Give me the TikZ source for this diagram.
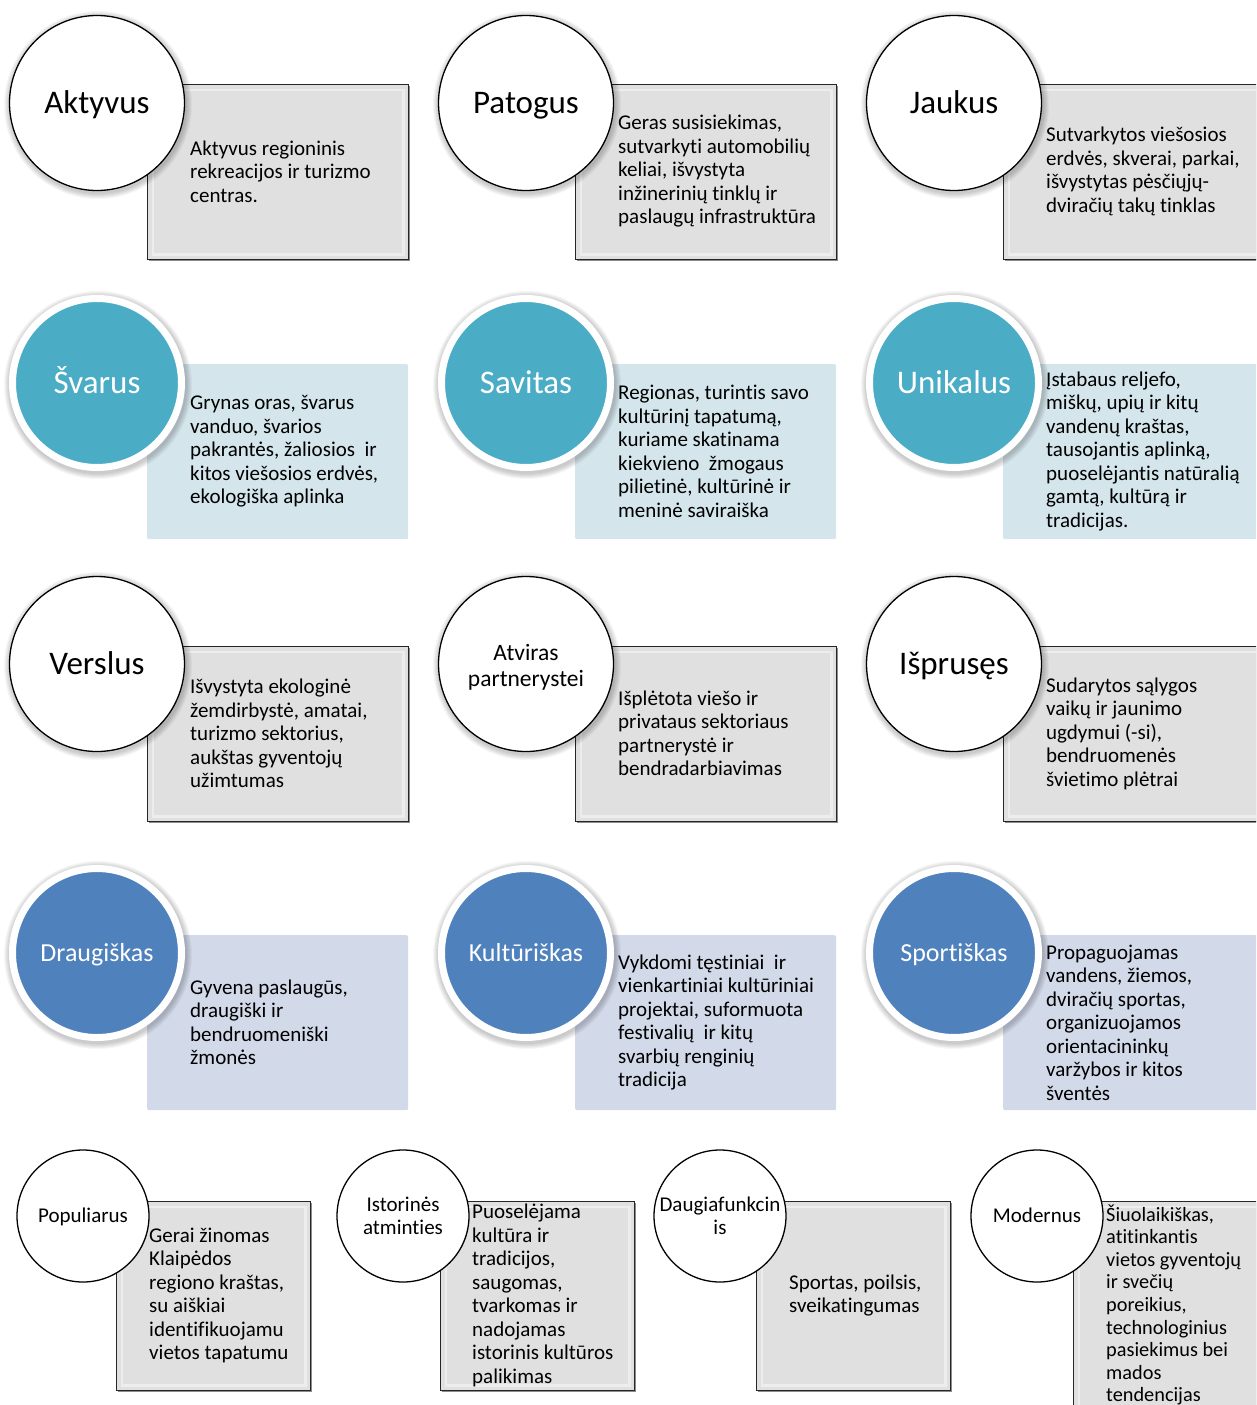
\documentclass[tikz,border=0pt]{standalone}
\usepackage{fontspec}
\setmainfont{Carlito}[Ligatures=NoCommon]
\definecolor{tealc}{HTML}{4BACC6}
\definecolor{bluec}{HTML}{4F81BD}
\definecolor{ltealbox}{HTML}{D4E5EC}
\definecolor{lbluebox}{HTML}{D2D9E9}
\tikzset{
  graybox/.style={draw=black!85, line width=1.4pt, fill=black!12, inner sep=0pt, anchor=north west,
    preaction={fill=black!45, transform canvas={xshift=1.6pt,yshift=-1.6pt}}},
  tealbox/.style={fill=ltealbox, rounded corners=2pt, inner sep=0pt, anchor=north west},
  bluebox/.style={fill=lbluebox, rounded corners=2pt, inner sep=0pt, anchor=north west},
  bigbox/.style={minimum width=261pt, minimum height=175pt},
  smallbox/.style={minimum width=194pt, minimum height=189pt},
  bevel/.style={draw=white, opacity=0.45, line width=2.5pt},
  whitecirc/.style={circle, draw=black, line width=1.3pt, fill=white, inner sep=0pt, align=center},
  colcirc/.style={circle, draw=white, line width=7pt, inner sep=0pt, text=white, align=center},
  bigtitle/.style={font=\fontsize{33}{36}\selectfont, text height=21pt, text depth=0pt},
  midtitle/.style={font=\fontsize{26}{30}\selectfont, text height=16.7pt, text depth=0pt},
  parttitle/.style={font=\fontsize{23.5}{26}\selectfont},
  smalltitle/.style={font=\fontsize{21}{23.5}\selectfont},
  smalltitleone/.style={font=\fontsize{21}{23.5}\selectfont, text height=13.5pt, text depth=0pt},
  desc/.style={anchor=west, align=left, inner sep=0pt, font=\fontsize{21}{23.5}\selectfont},
  descsmall/.style={anchor=west, align=left, inner sep=0pt, font=\fontsize{20.3}{22.6}\selectfont},
}
\newcommand\cshadow[3]{%
  \foreach \k in {1,...,6}{\fill[black,opacity=0.035] (#1+1,#2+2) circle[radius=#3pt+\k pt];}}
\begin{document}
\begin{tikzpicture}[x=1pt,y=-1pt]
\useasboundingbox (0,0) rectangle (1256,1405);
\fill[white] (0,0) rectangle (1256,1405);
\clip (0,0) rectangle (1256,1405);

% ---------- Row 1 ----------
\node[graybox,bigbox] (b11) at (147,84) {};
\node[graybox,bigbox] (b12) at (575,84) {};
\node[graybox,bigbox] (b13) at (1003,84) {};
\foreach \b in {b11,b12,b13}{\draw[bevel] ([shift={(6,6)}]\b.north west) rectangle ([shift={(-6,-6)}]\b.south east);}
\cshadow{97}{103}{88}
\cshadow{526}{103}{88}
\cshadow{954}{103}{88}
\node[whitecirc,minimum size=175pt,bigtitle] (c11) at (97,103) {Aktyvus};
\node[whitecirc,minimum size=175pt,bigtitle] (c12) at (526,103) {Patogus};
\node[whitecirc,minimum size=175pt,bigtitle] (c13) at (954,103) {Jaukus};
\node[desc] (t11) at (190,171.5) {Aktyvus regioninis\\rekreacijos ir turizmo\\centras.};
\node[desc] (t12) at (618,171.5) {Geras susisiekimas,\\sutvarkyti automobilių\\keliai, išvystyta\\inžinerinių tinklų ir\\paslaugų infrastruktūra};
\node[desc] (t13) at (1046,171.5) {Sutvarkytos viešosios\\erdvės, skverai, parkai,\\išvystytas pėsčiųjų-\\dviračių takų tinklas};

% ---------- Row 2 ----------
\node[tealbox,bigbox] (b21) at (147,364) {};
\node[tealbox,bigbox] (b22) at (575,364) {};
\node[tealbox,bigbox] (b23) at (1003,364) {};
\cshadow{97}{383}{88}
\cshadow{526}{383}{88}
\cshadow{954}{383}{88}
\node[colcirc,fill=tealc,minimum size=169pt,bigtitle] (c21) at (97,383) {Švarus};
\node[colcirc,fill=tealc,minimum size=169pt,bigtitle] (c22) at (526,383) {Savitas};
\node[colcirc,fill=tealc,minimum size=169pt,bigtitle] (c23) at (954,383) {Unikalus};
\node[desc] (t21) at (190,451.5) {Grynas oras, švarus\\vanduo, švarios\\pakrantės, žaliosios\ \ ir\\kitos viešosios erdvės,\\ekologiška aplinka};
\node[desc] (t22) at (618,451.5) {Regionas, turintis savo\\kultūrinį tapatumą,\\kuriame skatinama\\kiekvieno\ \ žmogaus\\pilietinė, kultūrinė ir\\meninė saviraiška};
\node[desc] (t23) at (1046,451.5) {Įstabaus reljefo,\\miškų, upių ir kitų\\vandenų kraštas,\\tausojantis aplinką,\\puoselėjantis natūralią\\gamtą, kultūrą ir\\tradicijas.};

% ---------- Row 3 ----------
\node[graybox,bigbox] (b31) at (147,646) {};
\node[graybox,bigbox] (b32) at (575,646) {};
\node[graybox,bigbox] (b33) at (1003,646) {};
\foreach \b in {b31,b32,b33}{\draw[bevel] ([shift={(6,6)}]\b.north west) rectangle ([shift={(-6,-6)}]\b.south east);}
\cshadow{97}{664}{88}
\cshadow{526}{664}{88}
\cshadow{954}{664}{88}
\node[whitecirc,minimum size=175pt,bigtitle] (c31) at (97,664) {Verslus};
\node[whitecirc,minimum size=175pt] (c32) at (526,664) {};
\node[parttitle,align=center,inner sep=0pt] (l32) at (526,667) {Atviras\\partnerystei};
\node[whitecirc,minimum size=175pt,bigtitle] (c33) at (954,664) {Išprusęs};
\node[desc] (t31) at (190,733.5) {Išvystyta ekologinė\\žemdirbystė, amatai,\\turizmo sektorius,\\aukštas gyventojų\\užimtumas};
\node[desc] (t32) at (618,733.5) {Išplėtota viešo ir\\privataus sektoriaus\\partnerystė ir\\bendradarbiavimas};
\node[desc] (t33) at (1046,733.5) {Sudarytos sąlygos\\vaikų ir jaunimo\\ugdymui (-si),\\bendruomenės\\švietimo plėtrai};

% ---------- Row 4 ----------
\node[bluebox,bigbox] (b41) at (147,935) {};
\node[bluebox,bigbox] (b42) at (575,935) {};
\node[bluebox,bigbox] (b43) at (1003,935) {};
\cshadow{97}{953}{88}
\cshadow{526}{953}{88}
\cshadow{954}{953}{88}
\node[colcirc,fill=bluec,minimum size=169pt,midtitle] (c41) at (97,953) {Draugiškas};
\node[colcirc,fill=bluec,minimum size=169pt,midtitle] (c42) at (526,953) {Kultūriškas};
\node[colcirc,fill=bluec,minimum size=169pt,midtitle] (c43) at (954,953) {Sportiškas};
\node[desc] (t41) at (190,1022.5) {Gyvena paslaugūs,\\draugiški ir\\bendruomeniški\\žmonės};
\node[desc] (t42) at (618,1022.5) {Vykdomi tęstiniai\ \ ir\\vienkartiniai kultūriniai\\projektai, suformuota\\festivalių\ \ ir kitų\\svarbių renginių\\tradicija};
\node[desc] (t43) at (1046,1022.5) {Propaguojamas\\vandens, žiemos,\\dviračių sportas,\\organizuojamos\\orientacininkų\\varžybos ir kitos\\šventės};

% ---------- Row 5 ----------
\node[graybox,smallbox] (b51) at (116,1201) {};
\node[graybox,smallbox] (b52) at (440,1201) {};
\node[graybox,smallbox] (b53) at (756,1201) {};
\node[graybox,minimum width=194pt,minimum height=212pt] (b54) at (1073,1201) {};
\foreach \b in {b51,b52,b53,b54}{\draw[bevel] ([shift={(6,6)}]\b.north west) rectangle ([shift={(-6,-6)}]\b.south east);}
\node[whitecirc,minimum size=132pt,smalltitleone] (c51) at (83,1216) {Populiarus};
\node[whitecirc,minimum size=132pt,smalltitle] (c52) at (403,1216) {Istorinės\\atminties};
\node[whitecirc,minimum size=132pt,smalltitle] (c53) at (720,1216) {Daugiafunkcin\\is};
\node[whitecirc,minimum size=132pt,smalltitleone] (c54) at (1037,1216) {Modernus};
\node[desc] (t51) at (149,1295.5) {Gerai žinomas\\Klaipėdos\\regiono kraštas,\\su aiškiai\\identifikuojamu\\vietos tapatumu};
\node[desc] (t52) at (472,1295.5) {Puoselėjama\\kultūra ir\\tradicijos,\\saugomas,\\tvarkomas ir\\nadojamas\\istorinis kultūros\\palikimas};
\node[desc] (t53) at (789,1295.5) {Sportas, poilsis,\\sveikatingumas};
\node[descsmall] (t54) at (1106,1305) {Šiuolaikiškas,\\atitinkantis\\vietos gyventojų\\ir svečių\\poreikius,\\technologinius\\pasiekimus bei\\mados\\tendencijas};
\end{tikzpicture}
\end{document}
